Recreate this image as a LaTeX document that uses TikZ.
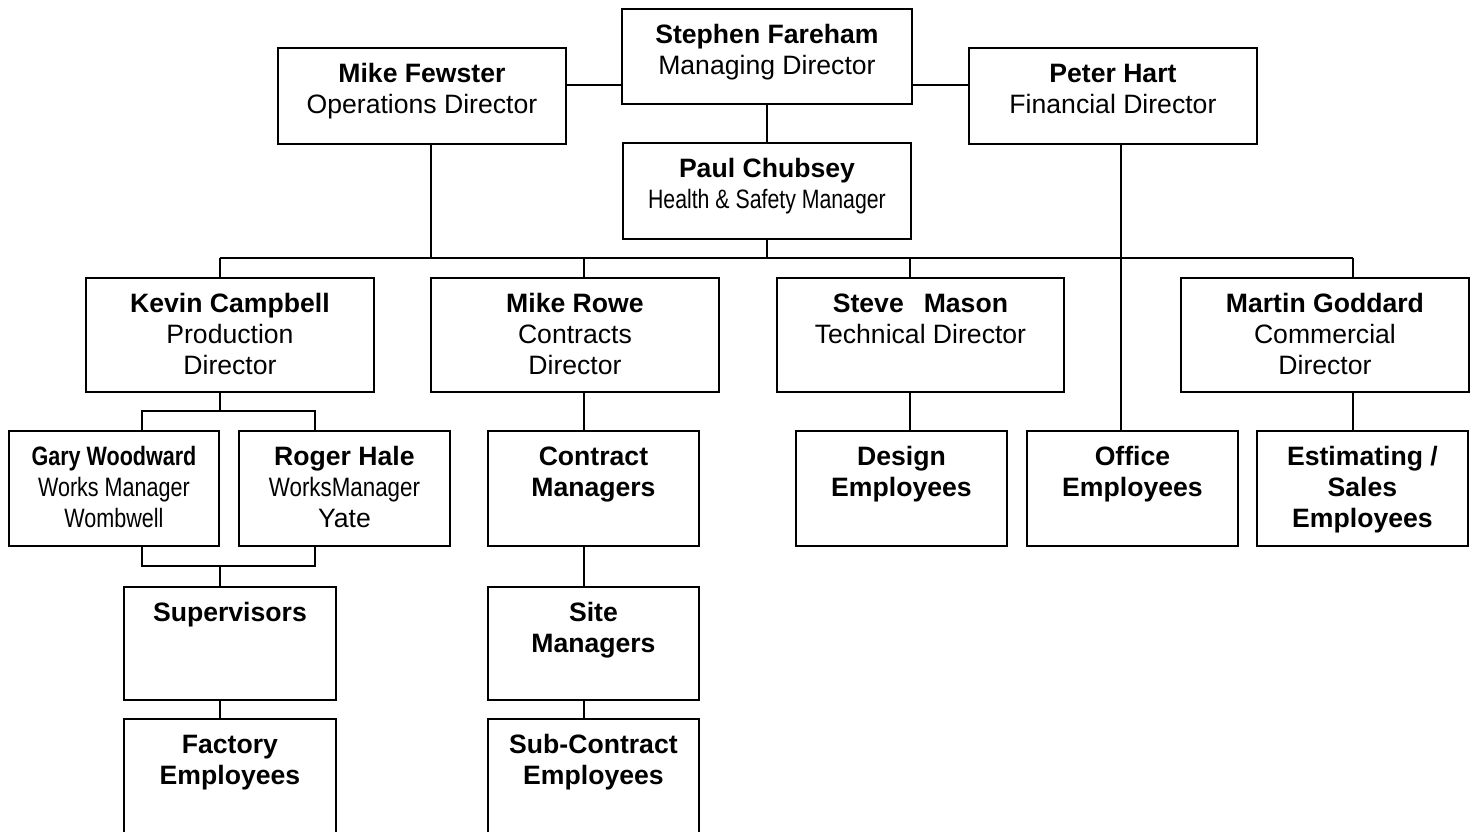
\documentclass[tikz,border=0pt]{standalone}
\usepackage{fontspec}
\setmainfont{Liberation Sans}
\usepackage{graphicx}
\newcommand\bt[3]{\parbox[t][#2pt][t]{#1pt}{\centering\vspace*{13pt}\strut #3}}
\newcommand\cnd[2][0.81]{\scalebox{#1}[1]{#2}}
\begin{document}
\begin{tikzpicture}[x=1pt,y=-1pt,
  ob/.style={draw, line width=1.9pt, inner sep=0pt, anchor=north west, font=\fontsize{26.6}{31}\selectfont},
  cn/.style={line width=1.9pt}]
\useasboundingbox (0,0) rectangle (1475,832);
\clip (0,0) rectangle (1475,832);
% boxes
\node[ob] (sf) at (621,8) {\bt{290}{95}{\textbf{Stephen Fareham}\\Managing Director}};
\node[ob] (mf) at (277,47) {\bt{288}{96}{\textbf{Mike Fewster}\\Operations Director}};
\node[ob] (ph) at (968,47) {\bt{288}{96}{\textbf{Peter Hart}\\Financial Director}};
\node[ob] (pc) at (622,142) {\bt{288}{96}{\textbf{Paul Chubsey}\\\cnd[0.8]{Health \& Safety Manager}}};
\node[ob] (kc) at (85,277) {\bt{288}{114}{\textbf{Kevin Campbell}\\Production\\Director}};
\node[ob] (mr) at (430,277) {\bt{288}{114}{\textbf{Mike Rowe}\\Contracts\\Director}};
\node[ob] (sm) at (776,277) {\bt{287}{114}{\textbf{Steve\hspace{20pt}Mason}\\Technical Director}};
\node[ob] (mg) at (1180,277) {\bt{288}{114}{\textbf{Martin Goddard}\\Commercial\\Director}};
\node[ob] (gw) at (8,430) {\bt{210}{115}{\cnd{\textbf{Gary Woodward}}\\\cnd{Works Manager}\\\cnd{Wombwell}}};
\node[ob] (rh) at (238,430) {\bt{211}{115}{\textbf{Roger Hale}\\\cnd[0.84]{WorksManager}\\Yate}};
\node[ob] (sv) at (123,586) {\bt{212}{113}{\bfseries Supervisors}};
\node[ob] (fe) at (123,718) {\bt{212}{120}{\bfseries Factory\\Employees}};
\node[ob] (cm) at (487,430) {\bt{211}{115}{\bfseries Contract\\Managers}};
\node[ob] (st) at (487,586) {\bt{211}{113}{\bfseries Site\\Managers}};
\node[ob] (sc) at (487,718) {\bt{211}{120}{\bfseries Sub-Contract\\Employees}};
\node[ob] (de) at (795,430) {\bt{211}{115}{\bfseries Design\\Employees}};
\node[ob] (oe) at (1026,430) {\bt{211}{115}{\bfseries Office\\Employees}};
\node[ob] (es) at (1256,430) {\bt{211}{115}{\bfseries Estimating /\\Sales\\Employees}};
% helper coordinates
\coordinate (ytop) at (0,85);
\coordinate (ybus) at (0,258);
\coordinate (ya) at (0,411);
\coordinate (yb) at (0,566);
\coordinate (xk) at (220,0);
\coordinate (xf) at (431,0);
\coordinate (xr) at (584,0);
\coordinate (xs) at (910,0);
\coordinate (xp) at (1121,0);
\coordinate (xg) at (1353,0);
\coordinate (xgw) at (142,0);
\coordinate (xrh) at (315,0);
% connectors
\draw[cn] (mf.east |- ytop) -- (sf.west |- ytop);
\draw[cn] (sf.east |- ytop) -- (ph.west |- ytop);
\draw[cn] (sf.south) -- (pc.north);
\draw[cn] (pc.south) -- (pc.south |- ybus);
\draw[cn] (mf.south -| xf) -- (xf |- ybus);
\draw[cn] (xk |- ybus) -- (xg |- ybus);
\draw[cn] (xk |- ybus) -- (kc.north -| xk);
\draw[cn] (xr |- ybus) -- (mr.north -| xr);
\draw[cn] (xs |- ybus) -- (sm.north -| xs);
\draw[cn] (xg |- ybus) -- (mg.north -| xg);
\draw[cn] (ph.south -| xp) -- (oe.north -| xp);
\draw[cn] (kc.south -| xk) -- (xk |- ya);
\draw[cn] (gw.north -| xgw) -- (xgw |- ya) -- (xrh |- ya) -- (rh.north -| xrh);
\draw[cn] (gw.south -| xgw) -- (xgw |- yb) -- (xrh |- yb) -- (rh.south -| xrh);
\draw[cn] (xk |- yb) -- (sv.north -| xk);
\draw[cn] (sv.south -| xk) -- (fe.north -| xk);
\draw[cn] (mr.south -| xr) -- (cm.north -| xr);
\draw[cn] (cm.south -| xr) -- (st.north -| xr);
\draw[cn] (st.south -| xr) -- (sc.north -| xr);
\draw[cn] (sm.south -| xs) -- (de.north -| xs);
\draw[cn] (mg.south -| xg) -- (es.north -| xg);
\end{tikzpicture}
\end{document}
